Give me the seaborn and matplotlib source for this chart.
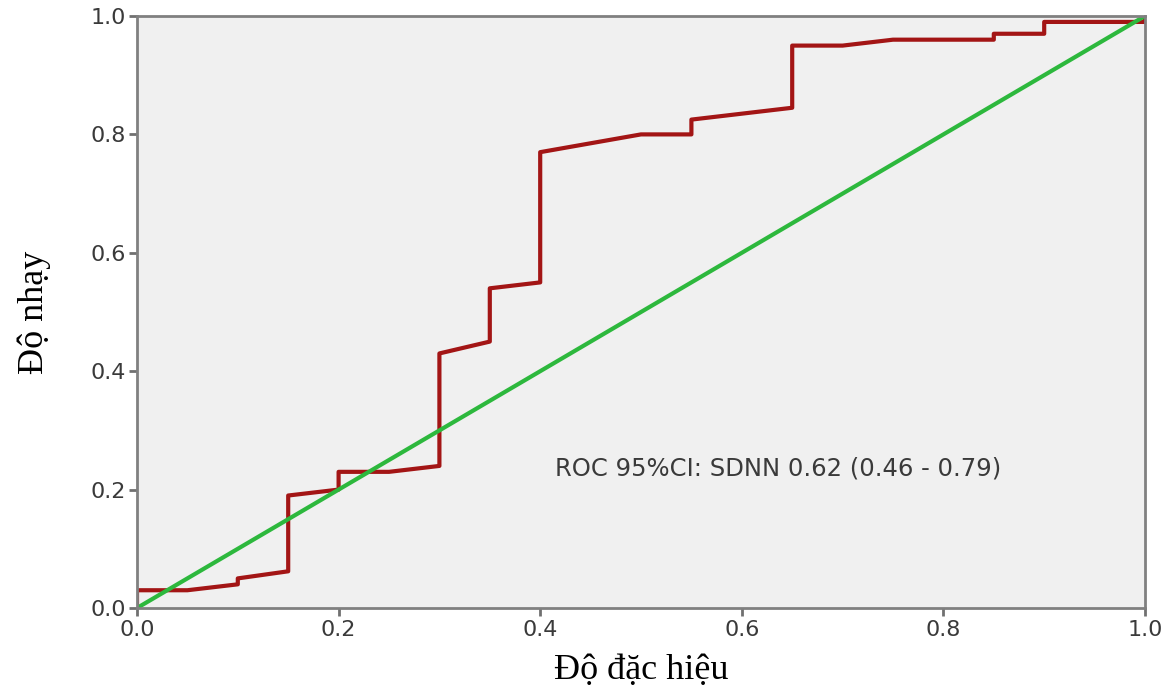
import matplotlib
matplotlib.use("Agg")
import matplotlib.pyplot as plt
import seaborn as sns
import pandas as pd

# ROC curve points (1 - specificity, sensitivity)
fpr = [0.0, 0.0, 0.05, 0.10, 0.10, 0.15, 0.15, 0.20, 0.20, 0.25, 0.30, 0.30,
       0.35, 0.35, 0.40, 0.40, 0.45, 0.50, 0.55, 0.55, 0.65, 0.65, 0.70, 0.75,
       0.85, 0.85, 0.90, 0.90, 1.0, 1.0]
tpr = [0.0, 0.03, 0.03, 0.04, 0.05, 0.062, 0.19, 0.20, 0.23, 0.23, 0.24, 0.43,
       0.45, 0.54, 0.55, 0.77, 0.785, 0.80, 0.80, 0.825, 0.845, 0.95, 0.95, 0.96,
       0.96, 0.97, 0.97, 0.99, 0.99, 1.0]
ref_x = [0.0, 1.0]
ref_y = [0.0, 1.0]
tick_vals = [0.0, 0.2, 0.4, 0.6, 0.8, 1.0]
tick_labels = ["0.0", "0.2", "0.4", "0.6", "0.8", "1.0"]
annotation = "ROC 95%CI: SDNN 0.62 (0.46 - 0.79)"
x_label = "Độ đặc hiệu"
y_label = "Độ nhạy"

sns.set_theme(style="white")
plt.rcParams['font.family'] = ['DejaVu Sans']

fig = plt.figure(figsize=(11.73, 6.9), dpi=100)
ax = fig.add_axes([137/1173, 1 - 608/690, (1145-137)/1173, (608-16)/690])
ax.set_facecolor("#F0F0F0")

roc_df = pd.DataFrame({"x": fpr, "y": tpr})
ref_df = pd.DataFrame({"x": ref_x, "y": ref_y})
sns.lineplot(data=roc_df, x="x", y="y", sort=False, estimator=None,
             color="#A31515", linewidth=3, ax=ax)
sns.lineplot(data=ref_df, x="x", y="y", sort=False, estimator=None,
             color="#2DB83D", linewidth=3, ax=ax)

ax.set_xlim(0, 1)
ax.set_ylim(0, 1)
ax.set_xticks(tick_vals)
ax.set_xticklabels(tick_labels)
ax.set_yticks(tick_vals)
ax.set_yticklabels(tick_labels)
ax.tick_params(axis="both", direction="out", length=6, width=2, color="#707070",
               labelsize=16, labelcolor="#3a3a3a", pad=2, bottom=True, left=True)
ax.tick_params(axis="x", pad=3)
for s in ax.spines.values():
    s.set_color("#808080")
    s.set_linewidth(2)

ax.set_xlabel(x_label, family=["Liberation Serif"], fontsize=26, color="black", labelpad=10)
ax.set_ylabel(y_label, family=["Liberation Serif"], fontsize=26, color="black", labelpad=28)

ax.text(0.415, 0.236, annotation, fontsize=17.5, color="#3a3a3a", va="center", ha="left")

fig.savefig("out.png", dpi=100)
